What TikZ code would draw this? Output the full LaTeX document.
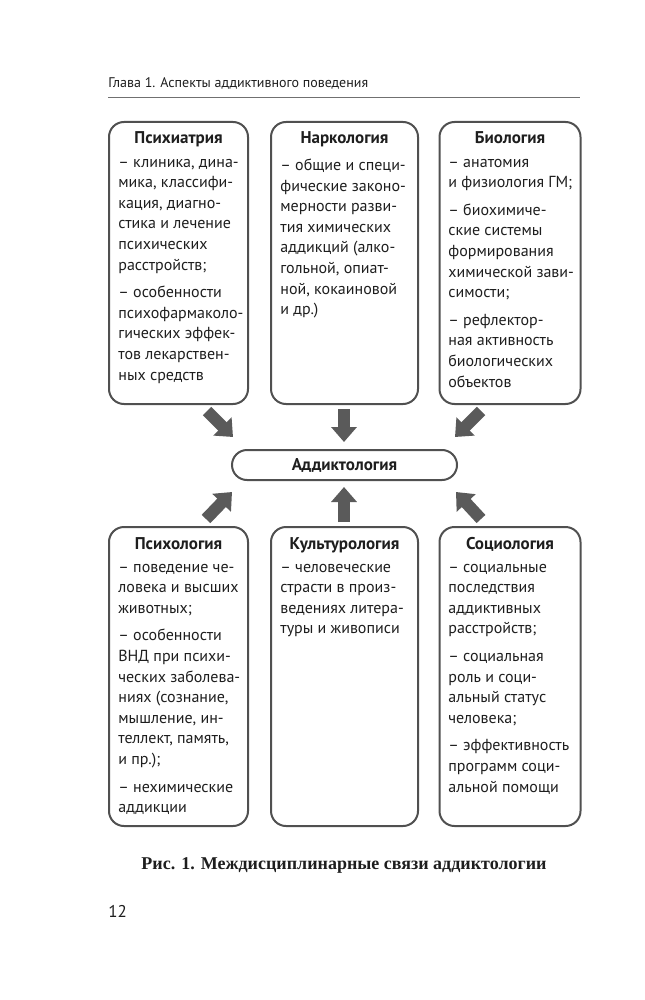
\documentclass[tikz,border=0pt]{standalone}
\usepackage{fontspec}
\setmainfont{PT Sans}
\newfontfamily\capfont{Liberation Serif}
\usetikzlibrary{arrows.meta}
\definecolor{frame}{HTML}{505050}
\definecolor{arr}{HTML}{5A5A5A}
\definecolor{rulec}{HTML}{707070}
\definecolor{ink}{HTML}{1E1E1E}
\begin{document}
\begin{tikzpicture}[x=0.5pt,y=-0.5pt,
  box/.style={draw=frame, line width=1pt, rounded corners=7.5pt, inner sep=0pt},
  ttl/.style={font=\fontsize{8.5}{10}\selectfont\bfseries, text=ink, inner sep=0pt, anchor=base},
  body/.style={font=\fontsize{8}{10.3}\selectfont, text=ink, align=left, inner sep=0pt, anchor=north west, execute at begin node=\strut},
  bigarrow/.style={draw=arr, line width=6pt, -{Triangle[length=7.5pt,width=12.5pt]}},
]
\useasboundingbox (0,0) rectangle (644,1000);

% header
\node[anchor=base west, inner sep=0pt, font=\fontsize{7}{8}\selectfont, text=ink] (hdr) at (108,88) {Глава 1. Аспекты аддиктивного поведения};
\draw[rulec, line width=0.75pt] (108,97.5) -- (580,97.5);

% top boxes
\node[box, minimum width=69.5pt, minimum height=141pt] (b1) at (178.5,263) {};
\node[box, minimum width=73.5pt, minimum height=141pt] (b2) at (344.5,263) {};
\node[box, minimum width=70.5pt, minimum height=141pt] (b3) at (510,263) {};

\node[ttl] (t1) at (178.5,144) {Психиатрия};
\node[ttl] (t2) at (344.5,144) {Наркология};
\node[ttl] (t3) at (510,144) {Биология};

\node[body] (x1) at (118,158.5) {– клиника, дина-\\мика, классифи-\\кация, диагно-\\стика и лечение\\психических\\расстройств;\\[3.5pt]– особенности\\психофармаколо-\\гических эффек-\\тов лекарствен-\\ных средств};
\node[body] (x2) at (280,158.5) {– общие и специ-\\фические законо-\\мерности разви-\\тия химических\\аддикций (алко-\\гольной, опиат-\\ной, кокаиновой\\и др.)};
\node[body] (x3) at (448,158.5) {– анатомия\\и физиология ГМ;\\[3.5pt]– биохимиче-\\ские системы\\формирования\\химической зави-\\симости;\\[3.5pt]– рефлектор-\\ная активность\\биологических\\объектов};

% centre
\node[draw=frame, line width=1pt, rounded corners=7.5pt, minimum width=112.5pt, minimum height=15pt, inner sep=0pt, font=\fontsize{8.5}{10}\selectfont\bfseries, text=ink] (add) at (344.5,465) {Аддиктология};

% bottom boxes
\node[box, minimum width=69.5pt, minimum height=149.5pt] (b4) at (178.5,676.5) {};
\node[box, minimum width=73.5pt, minimum height=149.5pt] (b5) at (344.5,676.5) {};
\node[box, minimum width=70.5pt, minimum height=149.5pt] (b6) at (510,676.5) {};

\node[ttl] (t4) at (178.5,549) {Психология};
\node[ttl] (t5) at (344.5,549) {Культурология};
\node[ttl] (t6) at (510,549) {Социология};

\node[body] (x4) at (118,563.5) {– поведение че-\\ловека и высших\\животных;\\[3.5pt]– особенности\\ВНД при психи-\\ческих заболева-\\ниях (сознание,\\мышление, ин-\\теллект, память,\\и пр.);\\[3.5pt]– нехимические\\аддикции};
\node[body] (x5) at (280,563.5) {– человеческие\\страсти в произ-\\ведениях литера-\\туры и живописи};
\node[body] (x6) at (448,563.5) {– социальные\\последствия\\аддиктивных\\расстройств;\\[3.5pt]– социальная\\роль и соци-\\альный статус\\человека;\\[3.5pt]– эффективность\\программ соци-\\альной помощи};

% arrow ends
\coordinate (a1) at (207,411);  \coordinate (e1) at (233,437);
\coordinate (a2) at (344,409);  \coordinate (e2) at (344,442);
\coordinate (a3) at (481,411);  \coordinate (e3) at (455,437);
\coordinate (a4) at (206,519);  \coordinate (e4) at (232,492);
\coordinate (a5) at (344,522);  \coordinate (e5) at (344,487);
\coordinate (a6) at (481,519);  \coordinate (e6) at (456,492);
\draw[bigarrow] (a1) -- (e1);
\draw[bigarrow] (a2) -- (e2);
\draw[bigarrow] (a3) -- (e3);
\draw[bigarrow] (a4) -- (e4);
\draw[bigarrow] (a5) -- (e5);
\draw[bigarrow] (a6) -- (e6);

% caption and page number
\node[anchor=base, inner sep=0pt, font=\capfont\bfseries\fontsize{9}{11}\selectfont, text=ink] (cap) at (344,869) {Рис. 1. Междисциплинарные связи аддиктологии};
\node[anchor=base west, inner sep=0pt, font=\fontsize{8.5}{10}\selectfont, text=ink] (pg) at (108,917) {12};
\end{tikzpicture}
\end{document}
